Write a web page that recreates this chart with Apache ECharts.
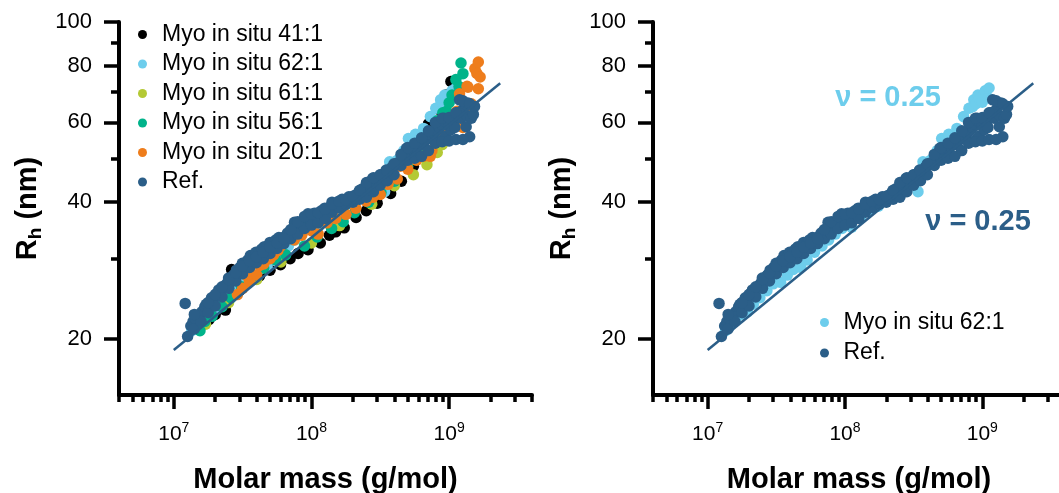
<!DOCTYPE html>
<html><head><meta charset="utf-8">
<script src="https://cdn.jsdelivr.net/npm/echarts@6/dist/echarts.min.js"></script>
<style>html,body{margin:0;padding:0;background:#fff}#c{width:1059px;height:493px}</style>
</head><body><div id="c"></div>
<script>
// ---- tick values ----
const xMajorTicks = [1e7, 1e8, 1e9];
const xMinorTicks = [4e6,5e6,6e6,7e6,8e6,9e6,2e7,3e7,4e7,5e7,6e7,7e7,8e7,9e7,2e8,3e8,4e8,5e8,6e8,7e8,8e8,9e8,2e9,3e9,4e9];
const yMajorTicks = [20, 40, 60, 80, 100];
const yMinorTicks = [30, 50, 70, 90];
const xRange = [4e6, 4e9];
const yRange = [15, 100];

// ---- series: [molar mass (g/mol), Rh (nm)] ----
const myo41 = [[1.8e7,22.0],[2.0e7,22.6],[2.37e7,23.1],[2.63e7,28.4],[3.0e7,25.5],[3.5e7,26.6],[4.2e7,27.5],[5.0e7,28.3],[5.96e7,29.1],[7.0e7,30.0],[8.0e7,30.8],[9.44e7,31.4],[1.16e8,32.5],[1.35e8,33.8],[1.5e8,34.4],[1.73e8,35.1],[2.11e8,37.0],[2.5e8,38.3],[3.0e8,39.8],[3.76e8,41.8],[4.5e8,44.5],[5.5e8,48.0],[6.5e8,52.5],[7.08e8,59.6],[8.5e8,64.0],[9.5e8,69.0],[1.03e9,73.9]];
const myo62 = [[1.35e7,20.8],[1.45e7,21.3],[1.60e7,22.0],[1.75e7,22.6],[1.95e7,22.9],[2.15e7,23.8],[2.40e7,24.6],[2.70e7,25.5],[3.00e7,26.4],[3.40e7,26.6],[3.80e7,27.6],[4.20e7,28.4],[4.77e7,28.7],[5.30e7,29.8],[6.00e7,31.0],[6.80e7,32.0],[7.60e7,33.0],[8.50e7,34.0],[9.50e7,35.0],[1.05e8,36.0],[1.12e8,35.2],[1.30e8,37.2],[1.49e8,38.4],[1.75e8,39.2],[2.00e8,40.5],[2.30e8,41.8],[2.70e8,43.5],[3.10e8,44.8],[3.40e8,42.2],[3.70e8,49.1],[4.20e8,49.5],[4.70e8,52.0],[5.06e8,55.3],[5.70e8,56.5],[6.53e8,58.2],[7.31e8,61.8],[8.00e8,64.5],[8.50e8,65.0],[8.67e8,67.3],[9.00e8,66.0],[9.30e8,69.0],[9.50e8,67.5],[9.80e8,68.0],[1.00e9,66.5],[1.05e9,70.5],[1.10e9,68.0],[1.12e9,71.5]];
const myo61 = [[1.7e7,21.5],[2.5e7,24.0],[4.0e7,27.0],[6.0e7,29.5],[1.0e8,32.5],[1.6e8,35.5],[2.74e8,39.6],[4.0e8,43.5],[5.5e8,46.0],[6.9e8,48.4],[8.2e8,51.5],[8.9e8,53.6],[9.17e8,55.8],[1.0e9,60.0]];
const myo56 = [[1.55e7,20.8],[1.68e7,21.8],[1.9e7,22.4],[2.24e7,23.5],[2.6e7,24.6],[3.1e7,26.0],[3.7e7,27.4],[4.5e7,28.6],[5.5e7,29.8],[6.5e7,30.6],[8.9e7,32.0],[1.1e8,33.5],[1.4e8,35.0],[1.7e8,36.2],[2.05e8,37.9],[2.6e8,40.0],[3.2e8,42.0],[4.0e8,44.5],[5.0e8,48.0],[6.2e8,52.5],[7.2e8,57.0],[8.2e8,60.5],[9.0e8,63.0],[9.6e8,63.5],[1.0e9,66.3],[1.05e9,69.0],[1.12e9,74.6],[1.18e9,72.0],[1.22e9,81.2],[1.26e9,76.9]];
const myo20 = [[2.9e7,25.0],[3.16e7,25.8],[3.4e7,27.5],[3.55e7,26.7],[4.0e7,27.6],[4.2e7,29.0],[4.5e7,29.2],[5.0e7,30.0],[5.31e7,30.6],[5.7e7,31.3],[6.0e7,32.0],[6.4e7,32.8],[7.08e7,34.5],[7.5e7,33.0],[8.5e7,33.8],[9.0e7,35.4],[1.0e8,34.6],[1.12e8,34.0],[1.2e8,36.6],[1.3e8,36.0],[1.5e8,36.8],[1.78e8,37.6],[2.1e8,38.8],[2.5e8,40.2],[2.8e8,41.0],[3.16e8,41.6],[3.5e8,44.8],[3.6e8,43.8],[4.2e8,45.0],[4.4e8,48.0],[5.01e8,47.3],[5.8e8,49.5],[6.5e8,50.5],[7.3e8,50.5],[7.5e8,52.0],[8.3e8,54.5],[9.44e8,56.6],[9.6e8,58.3],[1.02e9,58.5],[1.1e9,60.5],[1.14e9,63.5],[1.19e9,69.4],[1.26e9,58.5],[1.3e9,64.0],[1.35e9,72.1],[1.37e9,71.8],[1.45e9,66.0],[1.54e9,78.9],[1.59e9,77.0],[1.63e9,81.6],[1.63e9,71.2],[1.68e9,75.6]];
const ref = [
  [1.21e7,23.9],[1.26e7,20.2],[1.33e7,21.3],[1.38e7,21.8],[1.45e7,22.0],[1.53e7,22.4],[1.60e7,22.9],[1.68e7,23.5],[1.72e7,23.8],[1.80e7,24.0],[1.88e7,24.6],[1.95e7,24.4],[2.04e7,25.1],[2.12e7,25.6],[2.20e7,25.3],[2.30e7,26.0],[2.42e7,26.4],[2.50e7,27.2],[2.60e7,26.9],[2.72e7,27.6],[2.85e7,28.3],[2.95e7,27.9],[3.03e7,28.7],[3.15e7,29.3],[3.30e7,29.0],[3.45e7,29.8],[3.60e7,30.5],[3.80e7,30.2],[3.95e7,31.0],[4.15e7,30.8],[4.35e7,31.5],[4.55e7,31.9],[4.77e7,31.8],[5.00e7,32.6],[5.25e7,32.3],[5.50e7,33.0],[5.80e7,33.4],[6.05e7,33.1],[6.34e7,33.5],[6.70e7,34.2],[7.00e7,34.0],[7.53e7,36.1],[7.80e7,34.8],[8.20e7,35.5],[8.60e7,35.2],[9.00e7,36.3],[9.44e7,37.7],[1.00e8,37.0],[1.05e8,37.8],[1.12e8,36.4],[1.18e8,38.3],[1.25e8,38.8],[1.32e8,38.5],[1.41e8,40.0],[1.50e8,39.3],[1.58e8,39.8],[1.67e8,40.6],[1.77e8,40.2],[1.87e8,41.1],[1.98e8,40.7],[2.10e8,41.5],[2.22e8,42.2],[2.35e8,42.8],[2.48e8,42.3],[2.60e8,43.8],[2.78e8,45.1],[2.90e8,44.5],[3.05e8,45.4],[3.20e8,46.0],[3.35e8,45.6],[3.49e8,47.1],[3.65e8,46.7],[3.85e8,47.8],[4.05e8,48.3],[4.25e8,48.9],[4.45e8,48.5],[4.64e8,49.5],[4.91e8,52.6],[5.10e8,51.0],[5.35e8,51.8],[5.60e8,52.5],[5.85e8,53.0],[6.17e8,54.0],[6.45e8,53.6],[6.75e8,54.8],[7.05e8,55.5],[7.40e8,56.2],[7.74e8,56.8],[8.00e8,54.5],[8.10e8,57.5],[8.50e8,58.5],[8.80e8,59.5],[9.00e8,55.0],[9.18e8,61.3],[9.50e8,56.0],[9.60e8,60.0],[1.00e9,59.0],[1.03e9,57.8],[1.08e9,60.5],[1.10e9,58.5],[1.14e9,63.0],[1.19e9,67.3],[1.22e9,61.3],[1.25e9,63.5],[1.26e9,64.0],[1.30e9,66.0],[1.33e9,58.7],[1.35e9,62.0],[1.37e9,66.2],[1.41e9,55.8],[1.45e9,61.3],[1.50e9,62.5],[1.53e9,65.1],
  [1.41e7,21.0],[1.58e7,21.8],[1.78e7,22.8],[2.0e7,23.6],[2.24e7,24.7],[2.51e7,25.8],[2.82e7,26.8],[3.16e7,27.8],[3.55e7,28.7],[3.98e7,29.4],[4.47e7,30.0],[5.01e7,30.8],[5.62e7,31.6],[6.31e7,32.4],[7.08e7,33.2],[7.94e7,34.0],[8.91e7,35.0],[1.0e8,35.6],[1.12e8,36.0],[1.26e8,36.8],[1.41e8,38.0],[1.58e8,38.9],[1.78e8,39.6],[2.0e8,40.0],[2.24e8,40.6],[2.51e8,41.0],[2.82e8,42.2],[3.16e8,43.6],[3.55e8,44.6],[3.98e8,46.0],[4.47e8,48.2],[5.01e8,49.5],[5.62e8,50.0],[6.31e8,50.5],[7.08e8,52.0],[7.94e8,54.0],[8.91e8,54.4],[1.0e9,54.6],[1.12e9,55.0],[1.26e9,55.0],
  [1.41e7,22.6],[1.78e7,24.0],[2.0e7,25.0],[2.24e7,26.0],[2.51e7,27.0],[2.82e7,27.9],[3.16e7,28.9],[3.55e7,29.7],[3.98e7,30.3],[4.47e7,31.0],[5.01e7,31.8],[5.62e7,32.5],[6.31e7,33.2],[7.08e7,34.8],[7.94e7,36.2],[8.91e7,37.2],[1.0e8,37.6],[1.12e8,37.9],[1.26e8,38.6],[1.41e8,39.6],[1.58e8,40.2],[1.78e8,40.5],[2.0e8,41.2],[2.24e8,42.5],[2.51e8,44.2],[2.82e8,45.3],[3.16e8,46.0],[3.55e8,46.8],[3.98e8,48.6],[4.47e8,51.0],[5.01e8,52.8],[5.62e8,54.0],[6.31e8,55.5],[7.08e8,57.5],[7.94e8,60.0],[8.91e8,61.3],[1.0e9,61.5],[1.12e9,63.0],[1.26e9,67.0],[1.41e9,66.0]
];
// fitted power law, nu = 0.25 (end points)
const fitLine = [[1e7, 18.85], [2.35e9, 73.2]];

const C = {k:'#000000', lb:'#6dcdec', yg:'#b4c935', tl:'#00b38a', or:'#ee7d1c', db:'#2b5e88'};
const FONT = "'Liberation Sans', Arial, Helvetica, sans-serif";
const L10 = v => Math.log10(v);

const grids = [
  {left: 119, top: 22, width: 413, height: 373, containLabel:false, outerBoundsMode:'none'},
  {left: 653, top: 22, width: 412, height: 373, containLabel:false, outerBoundsMode:'none'}
];

const xAxes = [], yAxes = [];
grids.forEach((g, gi) => {
  xAxes.push({type:'log', logBase:10, gridIndex:gi, min:xRange[0], max:xRange[1], position:'bottom',
    axisLine:{show:true, onZero:false, lineStyle:{color:'#000', width:4}},
    axisTick:{show:false}, axisLabel:{show:false}, splitLine:{show:false}, minorTick:{show:false}, minorSplitLine:{show:false},
    name:'Molar mass (g/mol)', nameLocation:'middle', nameGap:70,
    nameTextStyle:{fontSize:29, fontWeight:'bold', color:'#000', fontFamily:FONT}});
  xAxes.push({type:'value', gridIndex:gi, min:L10(xRange[0]), max:L10(xRange[1]), position:'bottom',
    axisLine:{show:false, onZero:false}, splitLine:{show:false},
    axisTick:{show:true, length:14, customValues:xMajorTicks.map(L10), lineStyle:{color:'#000', width:3.5}},
    axisLabel:{show:true, customValues:xMajorTicks.map(L10), margin:26,
      formatter: v => '{b|10}{s|' + Math.round(v) + '}',
      rich:{b:{fontSize:21, color:'#000', fontFamily:FONT, lineHeight:26},
            s:{fontSize:14, color:'#000', fontFamily:FONT, verticalAlign:'top', lineHeight:14}}}});
  xAxes.push({type:'value', gridIndex:gi, min:L10(xRange[0]), max:L10(xRange[1]), position:'bottom',
    axisLine:{show:false, onZero:false}, splitLine:{show:false}, axisLabel:{show:false},
    axisTick:{show:true, length:7, customValues:xMinorTicks.map(L10), lineStyle:{color:'#000', width:3.5}}});

  yAxes.push({type:'log', logBase:10, gridIndex:gi, min:yRange[0], max:yRange[1], position:'left',
    axisLine:{show:true, onZero:false, lineStyle:{color:'#000', width:4}},
    axisTick:{show:false}, axisLabel:{show:false}, splitLine:{show:false}, minorTick:{show:false}, minorSplitLine:{show:false}});
  yAxes.push({type:'value', gridIndex:gi, min:L10(yRange[0]), max:L10(yRange[1]), position:'left',
    axisLine:{show:false, onZero:false}, splitLine:{show:false},
    axisTick:{show:true, length:15, customValues:yMajorTicks.map(L10), lineStyle:{color:'#000', width:3.5}},
    axisLabel:{show:true, customValues:yMajorTicks.map(L10), margin:27, fontSize:22, color:'#000', fontFamily:FONT,
      formatter: v => String(Math.round(Math.pow(10, v)))},
    name:'{r|R}{s|h}{r| (nm)}', nameLocation:'middle', nameGap:74, nameRotate:90,
    nameTextStyle:{rich:{r:{fontSize:29, fontWeight:'bold', color:'#000', fontFamily:FONT, lineHeight:34},
                         s:{fontSize:19, fontWeight:'bold', color:'#000', fontFamily:FONT, verticalAlign:'bottom', lineHeight:16}}}});
  yAxes.push({type:'value', gridIndex:gi, min:L10(yRange[0]), max:L10(yRange[1]), position:'left',
    axisLine:{show:false, onZero:false}, splitLine:{show:false}, axisLabel:{show:false},
    axisTick:{show:true, length:8, customValues:yMinorTicks.map(L10), lineStyle:{color:'#000', width:3.5}}});
});

function sc(name, data, color, gi) {
  return {type:'scatter', name, data, xAxisIndex:gi*3, yAxisIndex:gi*3, symbol:'circle', symbolSize:11.5,
    itemStyle:{color, opacity:1}, emphasis:{disabled:true}, animation:false};
}
function fit(gi) {
  return {type:'line', name:'fit', data:fitLine, xAxisIndex:gi*3, yAxisIndex:gi*3, symbol:'none', z:5,
    lineStyle:{color:C.db, width:2.5}, emphasis:{disabled:true}, animation:false};
}

const series = [
  sc('Myo in situ 41:1', myo41, C.k, 0),
  sc('Myo in situ 62:1', myo62, C.lb, 0),
  sc('Myo in situ 61:1', myo61, C.yg, 0),
  sc('Myo in situ 56:1', myo56, C.tl, 0),
  sc('Myo in situ 20:1', myo20, C.or, 0),
  sc('Ref.', ref, C.db, 0),
  fit(0),
  sc('Myo in situ 62:1', myo62, C.lb, 1),
  sc('Ref.', ref, C.db, 1),
  fit(1)
];

const legendText = {fontSize:23, color:'#000', fontFamily:FONT};
const option = {
  animation:false,
  backgroundColor:'#fff',
  textStyle:{fontFamily:FONT},
  grid: grids,
  xAxis: xAxes,
  yAxis: yAxes,
  legend: [
    {data:['Myo in situ 41:1','Myo in situ 62:1','Myo in situ 61:1','Myo in situ 56:1','Myo in situ 20:1','Ref.'],
     orient:'vertical', left:138, top:23, itemWidth:29, itemHeight:9, itemGap:6.5, icon:'circle',
     selectedMode:false, textStyle:legendText, padding:0},
    {data:['Myo in situ 62:1','Ref.'],
     orient:'vertical', left:820, top:311, itemWidth:28, itemHeight:9, itemGap:7.5, icon:'circle',
     selectedMode:false, textStyle:legendText, padding:0}
  ],
  graphic: [
    {type:'text', x:888, y:98, style:{text:'\u03bd = 0.25', font:"bold 29px 'Liberation Sans', Arial, sans-serif", fill:C.lb, textAlign:'center', textVerticalAlign:'middle'}},
    {type:'text', x:978, y:222, style:{text:'\u03bd = 0.25', font:"bold 29px 'Liberation Sans', Arial, sans-serif", fill:C.db, textAlign:'center', textVerticalAlign:'middle'}}
  ],
  series
};
const chart = echarts.init(document.getElementById('c'), null, {renderer:'canvas'});
chart.setOption(option);
</script>
</body></html>
